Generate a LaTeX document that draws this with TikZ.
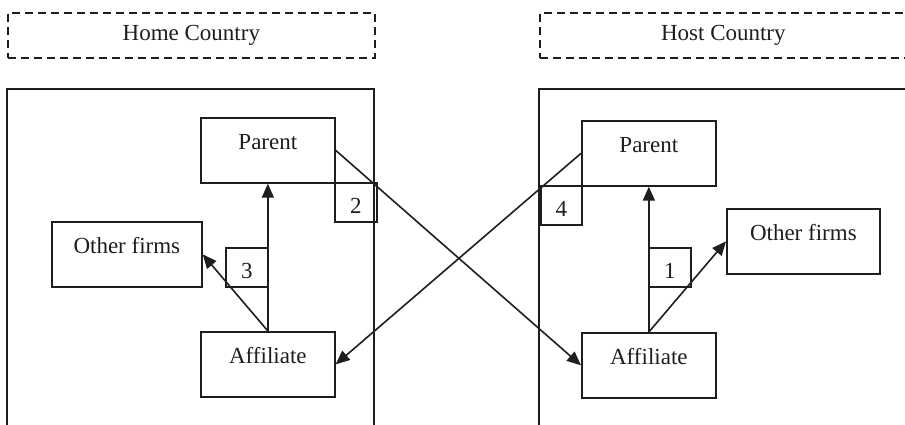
\documentclass[tikz,border=0pt]{standalone}
\usepackage{fontspec}
\setmainfont{Liberation Serif}
\usetikzlibrary{arrows.meta}
\definecolor{ink}{HTML}{1E1E1E}
\tikzset{
  base/.style={draw=ink, line width=1.7pt, inner sep=0pt, font=\fontsize{23}{27}\selectfont, text=ink},
  firm/.style={base, anchor=north west, minimum width=134pt, text height=31.5pt, text depth=33.5pt, align=center},
  other/.style={base, anchor=north west, minimum width=151pt, text height=32pt, text depth=33pt, align=center},
  num/.style={base, anchor=north west, minimum width=42pt, text height=31pt, text depth=8pt, align=center},
  country/.style={base, dash pattern=on 8pt off 5pt, anchor=north west, minimum width=367pt, minimum height=45pt},
  region/.style={draw=ink, line width=1.7pt},
  flow/.style={draw=ink, line width=1.6pt, -{Triangle[length=14pt,width=12pt]}}
}
\begin{document}
\begin{tikzpicture}[x=1pt,y=-1pt]
\useasboundingbox (0,0) rectangle (905,424);
\fill[white] (0,0) rectangle (905,424);
\clip (0,0) rectangle (905,424);
% country headers
\node[country] (home) at (7,12) {Home Country};
\node[country] (host) at (539,12) {Host Country};
% country regions
\draw[region] (7,440) -- (7,89) -- (374,89) -- (374,440);
\draw[region] (539,440) -- (539,89) -- (920,89);
% home firms
\node[firm] (hpar) at (200,117) {Parent};
\node[firm] (haff) at (200,331) {Affiliate};
\node[other, minimum width=150pt] (hoth) at (51,221) {Other firms};
% host firms
\node[firm] (fpar) at (581,120) {Parent};
\node[firm] (faff) at (581,332) {Affiliate};
\node[other, minimum width=153pt] (foth) at (726,208) {Other firms};
% number boxes
\node[num] (n2) at (334,182) {2};
\node[num] (n3) at (225,247) {3};
\node[num] (n1) at (648,247) {1};
\node[num, minimum width=41pt] (n4) at (540,185) {4};
% flows
\draw[flow] (haff.north) -- (hpar.south);
\draw[flow] (haff.north) -- (hoth.east);
\draw[flow] (faff.north) -- (fpar.south);
\draw[flow] (faff.north) -- (foth.west);
\draw[flow] (hpar.east) -- (faff.west);
\draw[flow] (fpar.west) -- (haff.east);
\end{tikzpicture}
\end{document}
